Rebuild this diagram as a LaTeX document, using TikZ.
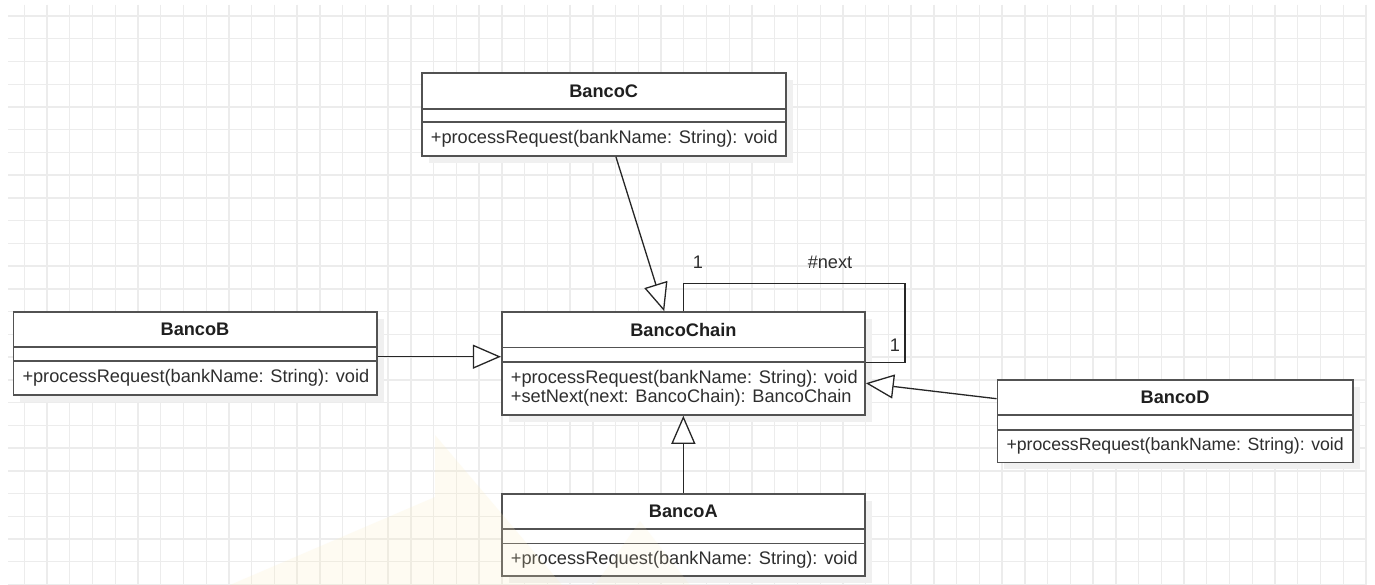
\documentclass[tikz,border=0pt]{standalone}
\usepackage{fontspec}
\setmainfont{Liberation Sans}
\usetikzlibrary{arrows.meta,calc}
\definecolor{gridcol}{RGB}{236,236,236}
\definecolor{wmark}{RGB}{252,236,190}
\tikzset{
  classbox/.style={draw=black!68, line width=1.6pt, fill=white, rectangle, inner sep=0pt},
  classline/.style={draw=black!68, line width=1.6pt},
  boxshadow/.style={fill=black!6},
  titletext/.style={font=\fontsize{18.2}{20}\selectfont\bfseries, text=black!88, inner sep=0pt},
  methodtext/.style={font=\fontsize{18.2}{19.5}\selectfont, text=black!82, align=left, inner sep=0pt, anchor=west},
  lbltext/.style={font=\fontsize{18.2}{20}\selectfont, text=black!82, inner sep=0pt},
  inh/.style={draw=black!85, line width=1.3pt, -{Triangle[length=28pt,width=24pt,fill=white]}},
  assoc/.style={draw=black!85, line width=1.3pt},
  gridline/.style={draw=gridcol, line width=1.4pt}
}
% name, x1, y1, x2, y2, header line y, attribute line y, title, methods
\newcommand\umlclassbox[9]{%
  \fill[boxshadow] (#2+7,#3+7) rectangle (#4+7,#5+7);
  \node[classbox, minimum width={#4pt-#2pt}, minimum height={#5pt-#3pt}] (#1) at ({(#2+#4)/2},{(#3+#5)/2}) {};
  \draw[classline] (#2,#6) -- (#4,#6);
  \draw[classline] (#2,#7) -- (#4,#7);
  \node[titletext] (#1-title) at ({(#2+#4)/2},{(#3+#6)/2}) {#8};
  \node[methodtext] (#1-ops) at (#2+9,{(#7+#5)/2}) {#9};
}
\begin{document}
\begin{tikzpicture}[x=1pt,y=-1pt]
\useasboundingbox (0,0) rectangle (1375,585);
\fill[white] (0,0) rectangle (1375,585);
% grid
\foreach \i in {0,...,59} {
  \draw[gridline] ({24.3+22.74*\i},5) -- ({24.3+22.74*\i},585);
}
\foreach \j in {0,...,25} {
  \draw[gridline] (8,{16+22.74*\j}) -- (1367,{16+22.74*\j});
}
% classes
\umlclassbox{bancoC}{421.7}{73.3}{785.7}{156}{109}{122.3}{BancoC}{+processRequest(bankName: String): void}
\umlclassbox{chain}{501.7}{312}{865}{415}{347.3}{361.7}{BancoChain}{+processRequest(bankName: String): void\\+setNext(next: BancoChain): BancoChain}
\umlclassbox{bancoB}{13.3}{311.7}{376.7}{395}{346.7}{360.7}{BancoB}{+processRequest(bankName: String): void}
\umlclassbox{bancoD}{997.3}{380}{1352.7}{462.3}{415}{430}{BancoD}{\fontsize{17.7}{19.5}\selectfont +processRequest(bankName: String): void}
\umlclassbox{bancoA}{501.7}{494}{865}{576}{529}{543.3}{BancoA}{+processRequest(bankName: String): void}
% generalisations
\draw[inh] ($(bancoC.south west)+(195,0)$) -- ($(chain.north west)+(163.3,0)$);
\draw[inh] ($(bancoB.north east)+(0,45.8)$) -- ($(chain.north west)+(0,45.5)$);
\draw[inh] (bancoA.north) -- (chain.south);
\draw[inh] ($(bancoD.north west)+(0,19.5)$) -- ($(chain.north east)+(0,72)$);
% self association
\coordinate (loopNE) at (905,283.3);
\coordinate (loopSE) at (905,362.7);
\draw[assoc] (chain.north) |- (loopNE) -- (loopSE) -- (loopSE -| chain.east);
\node[lbltext] (m1) at (698,262) {1};
\node[lbltext] (rn) at (830,262) {\#next};
\node[lbltext] (m2) at (895,345) {1};
% faint watermark
\fill[wmark, fill opacity=0.2] (435,435) -- (562,585) -- (230,585) -- (435,497) -- cycle;
\fill[wmark, fill opacity=0.14] (640,521) -- (690,585) -- (595,585) -- cycle;
\end{tikzpicture}
\end{document}
